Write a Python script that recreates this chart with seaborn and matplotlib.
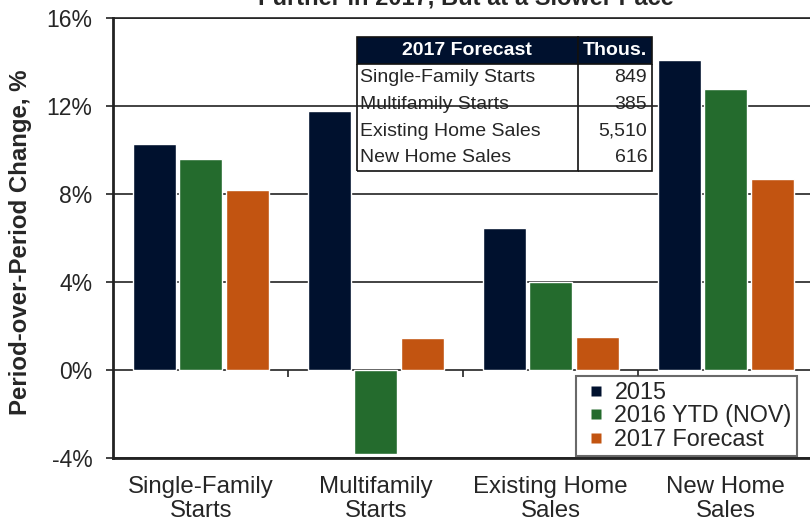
import matplotlib
matplotlib.use("Agg")
from matplotlib import pyplot as plt
from matplotlib.lines import Line2D
import seaborn as sns
import pandas as pd

# ---------------- data ----------------
categories = ["Single-Family\nStarts", "Multifamily\nStarts",
              "Existing Home\nSales", "New Home\nSales"]
series = ["2015", "2016 YTD (NOV)", "2017 Forecast"]
vals_2015 = [10.3, 11.8, 6.45, 14.1]
vals_2016 = [9.6, -3.8, 4.0, 12.8]
vals_2017 = [8.2, 1.45, 1.5, 8.7]
yticks = [-4, 0, 4, 8, 12, 16]

table_header = ["2017 Forecast", "Thous."]
table_items = ["Single-Family Starts", "Multifamily Starts",
               "Existing Home Sales", "New Home Sales"]
table_thous = ["849", "385", "5,510", "616"]

colors = ["#00112e", "#246b2d", "#c25411"]

# long table for seaborn
rows = []
for s, vals in zip(series, [vals_2015, vals_2016, vals_2017]):
    for c, v in zip(categories, vals):
        rows.append({"category": c, "series": s, "value": v})
df = pd.DataFrame(rows)

sns.set_style("white")
plt.rcParams["font.family"] = ["Liberation Sans", "DejaVu Sans"]

fig = plt.figure(figsize=(8.1, 5.26), dpi=100)
ax = fig.add_axes([0.140, 0.129, 0.864, 0.8365])

sns.barplot(data=df, x="category", y="value", hue="series", order=categories,
            hue_order=series, palette=colors, saturation=1, width=0.8, gap=0.08,
            ax=ax, legend=False)

ax.set_xlim(-0.5, 3.5)
ax.set_ylim(-4, 16)
ax.set_yticks(yticks)
ax.set_yticklabels([f"{t}%" for t in yticks])
ax.set_xlabel("")
ax.set_ylabel("Period-over-Period Change, %", fontsize=17.3, fontweight="bold")
ax.yaxis.set_label_coords(-0.117, 0.49)
for lab in ax.get_xticklabels():
    lab.set_linespacing(1.1)

ax.set_axisbelow(True)
ax.yaxis.grid(True, color="#222222", lw=1.2)
ax.xaxis.grid(False)
ax.tick_params(axis="y", direction="out", length=5, width=1.2, color="#222222",
               labelsize=16.5, pad=10, left=True)
ax.tick_params(axis="x", length=0, labelsize=17.3, pad=13)

for side in ["left", "bottom"]:
    ax.spines[side].set_color("#222222")
    ax.spines[side].set_linewidth(2)
ax.spines["top"].set_color("#222222")
ax.spines["top"].set_linewidth(1.2)
ax.spines["right"].set_visible(False)

# small separator ticks on the zero line between groups
ax.vlines([0.5, 1.5, 2.5], -0.3, 0, color="#222222", lw=1.2)

# legend
handles = [Line2D([], [], marker="s", linestyle="none", markersize=7.5,
                  markerfacecolor=c, markeredgecolor="none") for c in colors]
leg = ax.legend(handles, series, loc="lower left", bbox_to_anchor=(0.661, 0.006),
                frameon=True, fancybox=False, fontsize=16.8, handlelength=1.3,
                handletextpad=0.15, labelspacing=0.02, borderpad=0.2,
                borderaxespad=0)
leg.get_frame().set_edgecolor("#444444")
leg.get_frame().set_linewidth(1.5)

# forecast table
cell_text = [[a, b] for a, b in zip(table_items, table_thous)]
tbl = ax.table(cellText=cell_text, colLabels=table_header,
               colWidths=[0.749, 0.251], bbox=[0.348, 0.652, 0.421, 0.305])
tbl.auto_set_font_size(False)
n = len(table_items)
for (r, c), cell in tbl.get_celld().items():
    cell.set_edgecolor("#111111")
    cell.set_linewidth(1.2)
    txt = cell.get_text()
    txt.set_fontsize(14)
    if r == 0:
        cell.set_facecolor("#00112e")
        txt.set_color("white")
        txt.set_fontweight("bold")
        txt.set_ha("center")
        cell.visible_edges = "closed"
    else:
        cell.set_facecolor("white")
        edges = "LR" if c == 0 else "R"
        if r == n:
            edges += "B"
        cell.visible_edges = edges
        if c == 0:
            txt.set_ha("left")
            cell.PAD = 0.015
        else:
            txt.set_ha("right")
            cell.PAD = 0.06

fig.text(0.575, 1 - 5 / 526, "Further in 2017, But at a Slower Pace",
         ha="center", va="baseline", fontsize=17, fontweight="bold")

fig.savefig("out.png", dpi=100)
